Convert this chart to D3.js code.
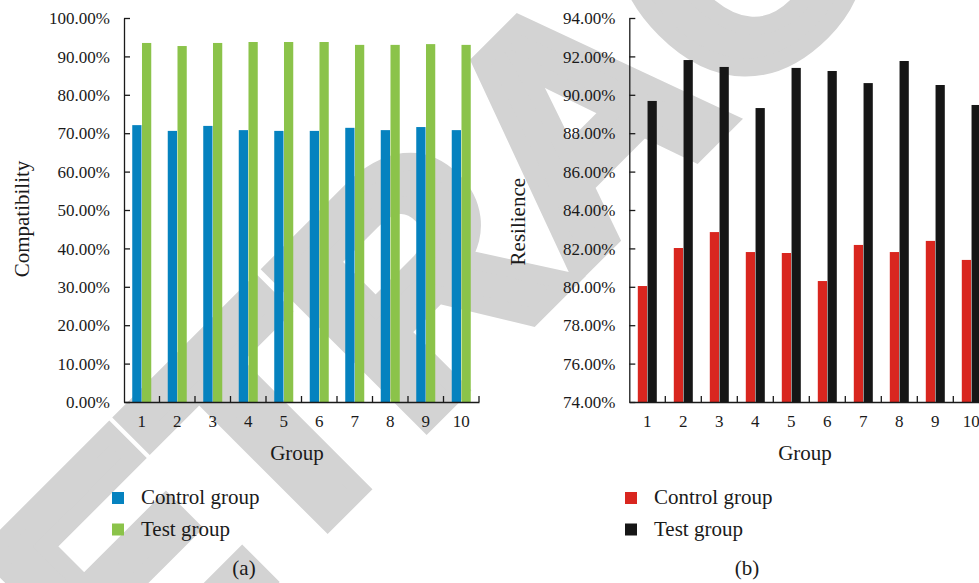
<!DOCTYPE html>
<html>
<head>
<meta charset="utf-8">
<script src="https://cdn.jsdelivr.net/npm/d3@7"></script>
<style>
  html, body { margin: 0; padding: 0; background: #fff; }
  svg { display: block; }
  text { font-family: "Liberation Serif", "Times New Roman", serif; fill: #1a1a1a; }
</style>
</head>
<body>
<svg id="chart" width="979" height="583"></svg>
<script>
// ---- data ----
const groups = ["1", "2", "3", "4", "5", "6", "7", "8", "9", "10"];
const seriesNames = ["Control group", "Test group"];
const compatibilityControl = [72.1, 70.6, 71.9, 70.8, 70.6, 70.6, 71.4, 70.8, 71.6, 70.8];
const compatibilityTest = [93.5, 92.7, 93.5, 93.75, 93.75, 93.75, 93.0, 93.0, 93.2, 93.0];
const resilienceControl = [80.04, 82.02, 82.85, 81.81, 81.76, 80.30, 82.18, 81.81, 82.39, 81.40];
const resilienceTest = [89.68, 91.81, 91.45, 89.31, 91.40, 91.24, 90.61, 91.76, 90.51, 89.47];
const compatibilityTicks = [0, 10, 20, 30, 40, 50, 60, 70, 80, 90, 100];
const resilienceTicks = [74, 76, 78, 80, 82, 84, 86, 88, 90, 92, 94];
const watermarkText = "RETRACTED";

const svg = d3.select("#chart");

// ---- watermark (behind everything) ----
svg.append("text")
  .attr("transform", "translate(653,196) rotate(-45)")
  .attr("text-anchor", "middle")
  .style("font-family", "'Liberation Sans', Arial, sans-serif")
  .style("font-weight", "bold")
  .style("font-size", "315px")
  .style("fill", "#d3d3d3")
  .style("stroke", "#d3d3d3")
  .style("stroke-width", "18px")
  .text(watermarkText);

const fmt = d => d3.format(".2f")(d) + "%";

function drawPanel(opt) {
  const g = svg.append("g");
  const x = d3.scaleBand().domain(groups).range([opt.left, opt.left + opt.band * groups.length]);
  const y = d3.scaleLinear().domain(opt.domain).range([402, 18]);
  const sub = d3.scaleBand().domain(seriesNames).range([0, 19]).paddingInner(0.05);
  const offset = (x.bandwidth() - 19) / 2;

  const data = groups.map((grp, i) => ({ grp, vals: [opt.control[i], opt.test[i]] }));
  const gg = g.selectAll("g.grp").data(data).join("g")
    .attr("transform", d => `translate(${x(d.grp) + offset},0)`);
  gg.selectAll("rect").data(d => d.vals.map((v, j) => ({ v, name: seriesNames[j] })))
    .join("rect")
    .attr("x", d => sub(d.name))
    .attr("width", sub.bandwidth())
    .attr("y", d => y(d.v))
    .attr("height", d => y(opt.domain[0]) - y(d.v))
    .attr("fill", d => d.name === seriesNames[0] ? opt.colors[0] : opt.colors[1]);

  // y axis
  const ya = g.append("g").attr("transform", `translate(${opt.left},0)`)
    .call(d3.axisLeft(y).tickValues(opt.ticks).tickFormat(fmt).tickSizeInner(-6).tickSizeOuter(0).tickPadding(14));
  ya.selectAll("text").style("font-size", "17px").attr("dy", "0.33em");
  ya.selectAll("line, path").attr("stroke", "#1a1a1a").attr("stroke-width", 1.3);

  // x axis
  const xa = g.append("g").attr("transform", "translate(0,402)")
    .call(d3.axisBottom(x).tickSize(0).tickPadding(13));
  xa.selectAll("text").style("font-size", "17px");
  xa.select("path").attr("stroke", "#1a1a1a").attr("stroke-width", 1.3);
  xa.selectAll("line.sep").data(groups).join("line").attr("class", "sep")
    .attr("x1", d => x(d) + x.bandwidth()).attr("x2", d => x(d) + x.bandwidth())
    .attr("y1", 0).attr("y2", -6)
    .attr("stroke", "#1a1a1a").attr("stroke-width", 1.3);

  // titles
  g.append("text")
    .attr("transform", `translate(${opt.yTitleX},${opt.yTitleY}) rotate(-90)`)
    .attr("text-anchor", "middle").style("font-size", "21px").text(opt.yTitle);
  g.append("text").attr("x", opt.xTitleX).attr("y", 460)
    .attr("text-anchor", "middle").style("font-size", "21px").text("Group");

  // legend
  const lg = g.selectAll("g.leg").data(seriesNames).join("g")
    .attr("transform", (d, i) => `translate(${opt.legX},${492 + i * 31.5})`);
  lg.append("rect").attr("width", 12).attr("height", 12)
    .attr("fill", (d, i) => opt.colors[i]);
  lg.append("text").attr("x", 29).attr("y", 12).style("font-size", "21px").text(d => d);

  g.append("text").attr("x", opt.capX).attr("y", 575)
    .attr("text-anchor", "middle").style("font-size", "21px").text(opt.caption);
}

drawPanel({
  left: 124, band: 35.5, domain: [0, 100], ticks: compatibilityTicks,
  control: compatibilityControl, test: compatibilityTest,
  colors: ["#0582bf", "#8bc34a"], yTitle: "Compatibility", yTitleX: 28.5, yTitleY: 219,
  xTitleX: 297, legX: 112, capX: 244, caption: "(a)"
});
drawPanel({
  left: 629.3, band: 36, domain: [74, 94], ticks: resilienceTicks,
  control: resilienceControl, test: resilienceTest,
  colors: ["#d9261f", "#161616"], yTitle: "Resilience", yTitleX: 525, yTitleY: 221.7,
  xTitleX: 805, legX: 625, capX: 747, caption: "(b)"
});
</script>
</body>
</html>
